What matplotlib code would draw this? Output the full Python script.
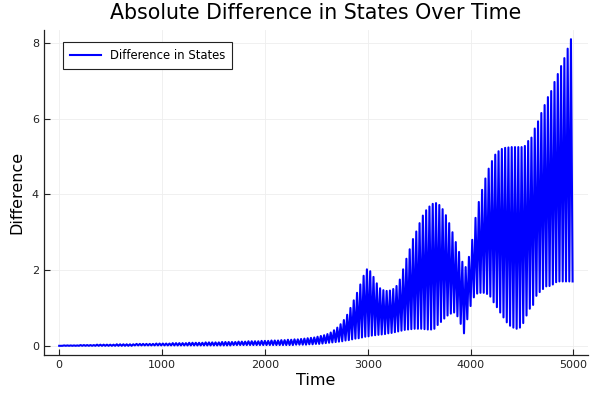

import numpy as np
import matplotlib

matplotlib.use("Agg")

import matplotlib.pyplot as plt


HALF_PERIOD = 16  # time units between a trough and the next peak

# troughs at t = 0, 32, 64, ... 4992
TROUGHS = [
    0.00, 0.00, 0.00, 0.00, 0.00, 0.00, 0.00, 0.00, 0.00, 0.00,
    0.00, 0.00, 0.00, 0.00, 0.00, 0.00, 0.00, 0.00, 0.00, 0.00,
    0.00, 0.00, 0.00, 0.01, 0.01, 0.01, 0.01, 0.01, 0.01, 0.01,
    0.01, 0.01, 0.01, 0.01, 0.01, 0.01, 0.01, 0.01, 0.01, 0.01,
    0.01, 0.01, 0.01, 0.01, 0.01, 0.01, 0.01, 0.01, 0.01, 0.01,
    0.01, 0.01, 0.01, 0.02, 0.02, 0.02, 0.02, 0.02, 0.02, 0.02,
    0.02, 0.02, 0.02, 0.02, 0.02, 0.02, 0.02, 0.02, 0.02, 0.02,
    0.02, 0.02, 0.03, 0.03, 0.03, 0.03, 0.04, 0.04, 0.05, 0.05,
    0.06, 0.07, 0.08, 0.09, 0.10, 0.11, 0.12, 0.14, 0.15, 0.17,
    0.19, 0.20, 0.22, 0.24, 0.25, 0.27, 0.28, 0.29, 0.30, 0.31,
    0.33, 0.34, 0.36, 0.38, 0.40, 0.42, 0.43, 0.44, 0.45, 0.45,
    0.45, 0.44, 0.43, 0.43, 0.45, 0.55, 0.63, 0.72, 0.80, 0.85,
    0.88, 0.78, 0.58, 0.33, 0.70, 1.05, 1.28, 1.38, 1.40, 1.40,
    1.37, 1.30, 1.15, 1.02, 0.88, 0.75, 0.62, 0.53, 0.48, 0.45,
    0.48, 0.60, 0.80, 0.98, 1.08, 1.32, 1.42, 1.50, 1.57, 1.58,
    1.62, 1.68, 1.70, 1.70, 1.70, 1.70, 1.70,
]

# peaks at t = 16, 48, 80, ... 4976
PEAKS = [
    0.00, 0.01, 0.01, 0.01, 0.01, 0.01, 0.02, 0.02, 0.02, 0.02,
    0.02, 0.03, 0.03, 0.03, 0.03, 0.03, 0.03, 0.04, 0.04, 0.04,
    0.04, 0.04, 0.04, 0.05, 0.05, 0.05, 0.05, 0.05, 0.05, 0.06,
    0.06, 0.06, 0.06, 0.06, 0.07, 0.07, 0.07, 0.07, 0.07, 0.08,
    0.08, 0.08, 0.08, 0.08, 0.09, 0.09, 0.09, 0.09, 0.09, 0.10,
    0.10, 0.10, 0.10, 0.10, 0.11, 0.11, 0.11, 0.12, 0.12, 0.12,
    0.12, 0.13, 0.13, 0.13, 0.14, 0.14, 0.14, 0.15, 0.15, 0.16,
    0.16, 0.17, 0.17, 0.18, 0.19, 0.20, 0.21, 0.22, 0.24, 0.26,
    0.28, 0.31, 0.35, 0.41, 0.48, 0.57, 0.68, 0.82, 1.00, 1.20,
    1.40, 1.62, 1.85, 2.02, 1.97, 1.82, 1.65, 1.52, 1.47, 1.45,
    1.46, 1.50, 1.58, 1.75, 2.02, 2.30, 2.55, 2.82, 3.02, 3.24,
    3.44, 3.58, 3.68, 3.75, 3.77, 3.72, 3.61, 3.45, 3.24, 3.00,
    2.74, 2.48, 2.22, 2.08, 2.35, 2.80, 3.38, 3.80, 4.12, 4.42,
    4.68, 4.88, 5.05, 5.14, 5.20, 5.23, 5.24, 5.25, 5.25, 5.25,
    5.25, 5.28, 5.41, 5.50, 5.74, 5.93, 6.15, 6.36, 6.57, 6.73,
    6.97, 7.18, 7.39, 7.60, 7.85, 8.10,
]

X_TICKS = [0, 1000, 2000, 3000, 4000, 5000]
Y_TICKS = [0, 2, 4, 6, 8]


def build_series() -> tuple[np.ndarray, np.ndarray]:
    values = []
    for i, low in enumerate(TROUGHS):
        values.append(low)
        if i < len(PEAKS):
            values.append(PEAKS[i])
    values = np.asarray(values)
    t = np.arange(len(values)) * HALF_PERIOD
    return t, values


def main() -> None:
    t, diff = build_series()

    fig = plt.figure(figsize=(6, 4), dpi=100)
    ax = fig.add_axes([0.073, 0.1125, 0.907, 0.8125])
    ax.plot(t, diff, color="#0000FF", linewidth=1.5, label="Difference in States")

    span_x = t.max() - t.min()
    ax.set_xlim(t.min() - 0.03 * span_x, t.max() + 0.03 * span_x)
    span_y = diff.max() - diff.min()
    ax.set_ylim(diff.min() - 0.03 * span_y, diff.max() + 0.03 * span_y)

    ax.set_xticks(X_TICKS)
    ax.set_yticks(Y_TICKS)
    ax.tick_params(direction="in", length=4, width=0.8, labelsize=8, color="#222222", labelcolor="#222222")
    ax.grid(True, color="#EEEEEE", linewidth=0.6)
    for side in ("top", "right"):
        ax.spines[side].set_visible(False)
    for side in ("left", "bottom"):
        ax.spines[side].set_linewidth(0.9)
        ax.spines[side].set_color("#222222")

    ax.set_title("Absolute Difference in States Over Time", fontsize=14.8, pad=8)
    ax.set_xlabel("Time", fontsize=11.5, labelpad=2)
    ax.set_ylabel("Difference", fontsize=11.5, labelpad=5)

    leg = ax.legend(loc="upper left", fontsize=8.4, fancybox=False, framealpha=1.0,
                    edgecolor="#222222", handlelength=2.6, borderpad=0.6,
                    bbox_to_anchor=(0.025, 0.98))
    leg.get_frame().set_linewidth(0.8)

    fig.savefig("out.png", dpi=100, facecolor="white")
    plt.close(fig)


if __name__ == "__main__":
    main()
